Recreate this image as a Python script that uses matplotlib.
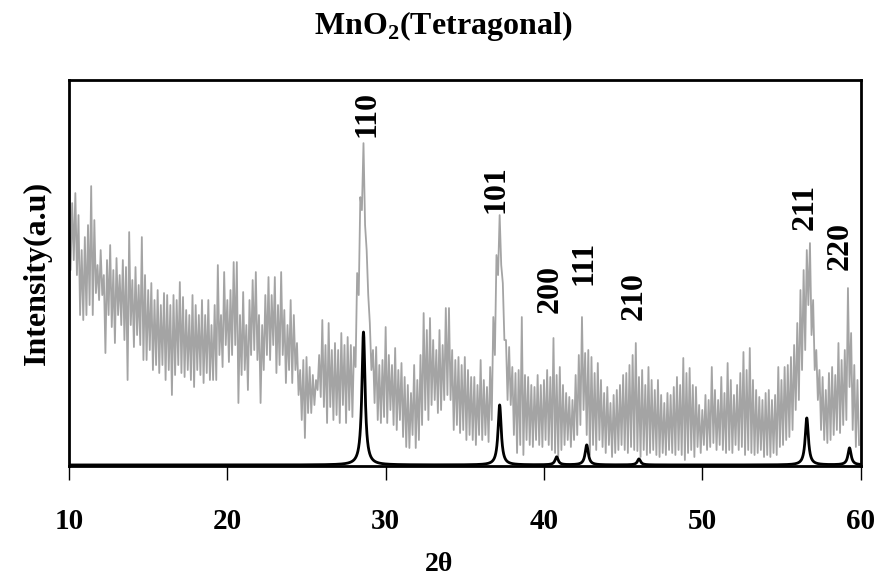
import numpy as np
import matplotlib
matplotlib.use("Agg")
import matplotlib.pyplot as plt

plt.rcParams["font.family"] = ["Liberation Serif", "DejaVu Serif"]
plt.rcParams["font.weight"] = "bold"
plt.rcParams["mathtext.fontset"] = "custom"
plt.rcParams["mathtext.rm"] = "Liberation Serif:bold"
plt.rcParams["mathtext.bf"] = "Liberation Serif:bold"

# Measured pattern: alternating local maxima / minima of the noisy scan,
# maxima at 10.0 + 0.2k degrees, minima halfway between them.
scan_start = 10.0
scan_step = 0.2
crest = [
    245, 262, 272, 250, 215, 228, 240, 279, 245, 200,
    215, 190, 205, 220, 195, 207, 190, 205, 198, 233,
    185, 198, 180, 228, 190, 175, 182, 165, 175, 160,
    172, 170, 160, 170, 165, 183, 168, 155, 150, 170,
    160, 150, 165, 150, 165, 140, 160, 200, 150, 193,
    165, 175, 203, 203, 150, 173, 140, 165, 185, 193,
    150, 140, 170, 188, 170, 188, 160, 193, 155, 140,
    165, 150, 122, 95, 105, 108, 98, 90, 85, 110,
    145, 120, 142, 115, 122, 115, 132, 120, 128, 120,
    118, 192, 268, 322, 215, 142, 115, 118, 100, 105,
    138, 110, 100, 117, 95, 102, 88, 80, 72, 100,
    85, 110, 152, 135, 147, 125, 115, 135, 120, 157,
    157, 115, 105, 108, 100, 108, 95, 88, 88, 80,
    105, 85, 78, 98, 148, 210, 250, 182, 125, 118,
    98, 92, 95, 148, 90, 88, 80, 78, 90, 80,
    85, 95, 88, 127, 90, 98, 80, 72, 68, 65,
    90, 110, 148, 112, 115, 108, 92, 102, 85, 72,
    78, 62, 70, 75, 80, 90, 92, 100, 110, 122,
    88, 95, 80, 98, 85, 75, 85, 70, 62, 72,
    70, 78, 88, 80, 107, 92, 97, 80, 78, 60,
    55, 70, 65, 98, 75, 65, 88, 72, 102, 85,
    70, 80, 92, 113, 95, 117, 85, 75, 68, 65,
    72, 75, 65, 70, 98, 85, 98, 100, 108, 120,
    142, 175, 195, 215, 222, 165, 115, 95, 88, 75,
    92, 98, 90, 122, 105, 115, 177, 132, 100, 85,
]
trough = [
    195, 205, 190, 150, 145, 150, 160, 150, 172, 165,
    170, 112, 150, 138, 122, 150, 140, 125, 85, 140,
    118, 130, 120, 105, 105, 115, 95, 100, 92, 100,
    85, 95, 70, 90, 100, 92, 88, 95, 85, 78,
    95, 90, 82, 92, 85, 85, 85, 110, 98, 120,
    103, 110, 120, 62, 90, 95, 75, 110, 115, 105,
    62, 95, 110, 105, 120, 92, 100, 110, 82, 95,
    82, 95, 70, 45, 27, 52, 52, 60, 75, 68,
    58, 42, 58, 45, 50, 42, 60, 42, 55, 48,
    98, 170, 255, 240, 170, 95, 62, 45, 42, 48,
    42, 55, 40, 35, 45, 28, 18, 17, 30, 17,
    25, 40, 55, 45, 60, 65, 52, 55, 65, 70,
    65, 35, 40, 32, 35, 25, 30, 25, 20, 30,
    25, 30, 23, 45, 110, 190, 200, 125, 65, 60,
    30, 12, 20, 10, 25, 20, 18, 25, 20, 18,
    25, 20, 15, 12, 8, 15, 20, 25, 18, 25,
    30, 40, 55, 30, 10, 20, 15, 25, 18, 12,
    20, 8, 12, 15, 20, 15, 12, 18, 15, 14,
    8, 15, 10, 12, 15, 10, 8, 12, 10, 15,
    12, 10, 15, 10, 5, 12, 15, 8, 18, 12,
    20, 15, 18, 22, 15, 20, 15, 12, 15, 12,
    20, 15, 18, 10, 15, 12, 10, 12, 15, 8,
    10, 8, 12, 10, 18, 20, 25, 28, 35, 55,
    65, 95, 115, 160, 130, 95, 65, 35, 25, 22,
    25, 30, 35, 32, 40, 45, 78, 35, 18, 20,
]

# Reference (standard) reflections of tetragonal MnO2
ref_hkl = ["110", "101", "200", "111", "210", "211", "220"]
ref_two_theta = [28.6, 37.2, 40.8, 42.7, 46.0, 56.6, 59.3]
ref_intensity = [133, 60, 8, 20, 6, 47, 17]

# hkl label anchors (position and bottom height)
label_two_theta = [28.8, 37.0, 40.4, 42.5, 45.7, 56.5, 58.7]
label_height = [328, 252, 152, 180, 145, 235, 195]

# assemble the zigzag scan
n = len(crest)
crest_x = scan_start + scan_step * np.arange(n)
trough_x = crest_x + scan_step / 2
scan_x = np.empty(2 * n)
scan_y = np.empty(2 * n)
scan_x[0::2] = crest_x
scan_x[1::2] = trough_x
scan_y[0::2] = crest
scan_y[1::2] = trough

# reference pattern drawn as narrow Lorentzian lines
grid = np.linspace(10, 60, 6001)
ref_profile = np.zeros_like(grid)
hwhm = 0.12
for c, h in zip(ref_two_theta, ref_intensity):
    ref_profile += h / (1.0 + ((grid - c) / hwhm) ** 2)

fig = plt.figure(figsize=(8.78, 5.81), dpi=100)
ax = fig.add_axes([0.0786, 0.198, 0.9016, 0.664])

ax.plot(scan_x, scan_y, color="#a4a4a4", lw=1.3, zorder=2)
ax.plot(grid, ref_profile, color="black", lw=2.0, zorder=3)

for lab, x, y in zip(ref_hkl, label_two_theta, label_height):
    ax.text(x, y, lab, rotation=90, ha="center", va="bottom",
            fontsize=23, fontweight="bold", color="black")

ax.set_xlim(10, 60)
ax.set_ylim(-1, 385)
ax.set_xticks([10, 20, 30, 40, 50, 60])
ax.set_yticks([])
ax.tick_params(axis="x", direction="out", length=10, width=1.0, pad=20,
               labelsize=21)
for lbl in ax.get_xticklabels():
    lbl.set_fontweight("bold")
for sp in ax.spines.values():
    sp.set_linewidth(2.0)
    sp.set_color("black")

ax.set_ylabel("Intensity(a.u)", fontsize=23, fontweight="bold", labelpad=12)
fig.text(0.5, 0.028, "2θ", ha="center", va="center",
         fontsize=20, fontweight="bold")
fig.text(0.505, 0.955, r"MnO$_\mathbf{2}$(Tetragonal)", ha="center", va="center",
         fontsize=23, fontweight="bold")

fig.savefig("out.png", dpi=100)
